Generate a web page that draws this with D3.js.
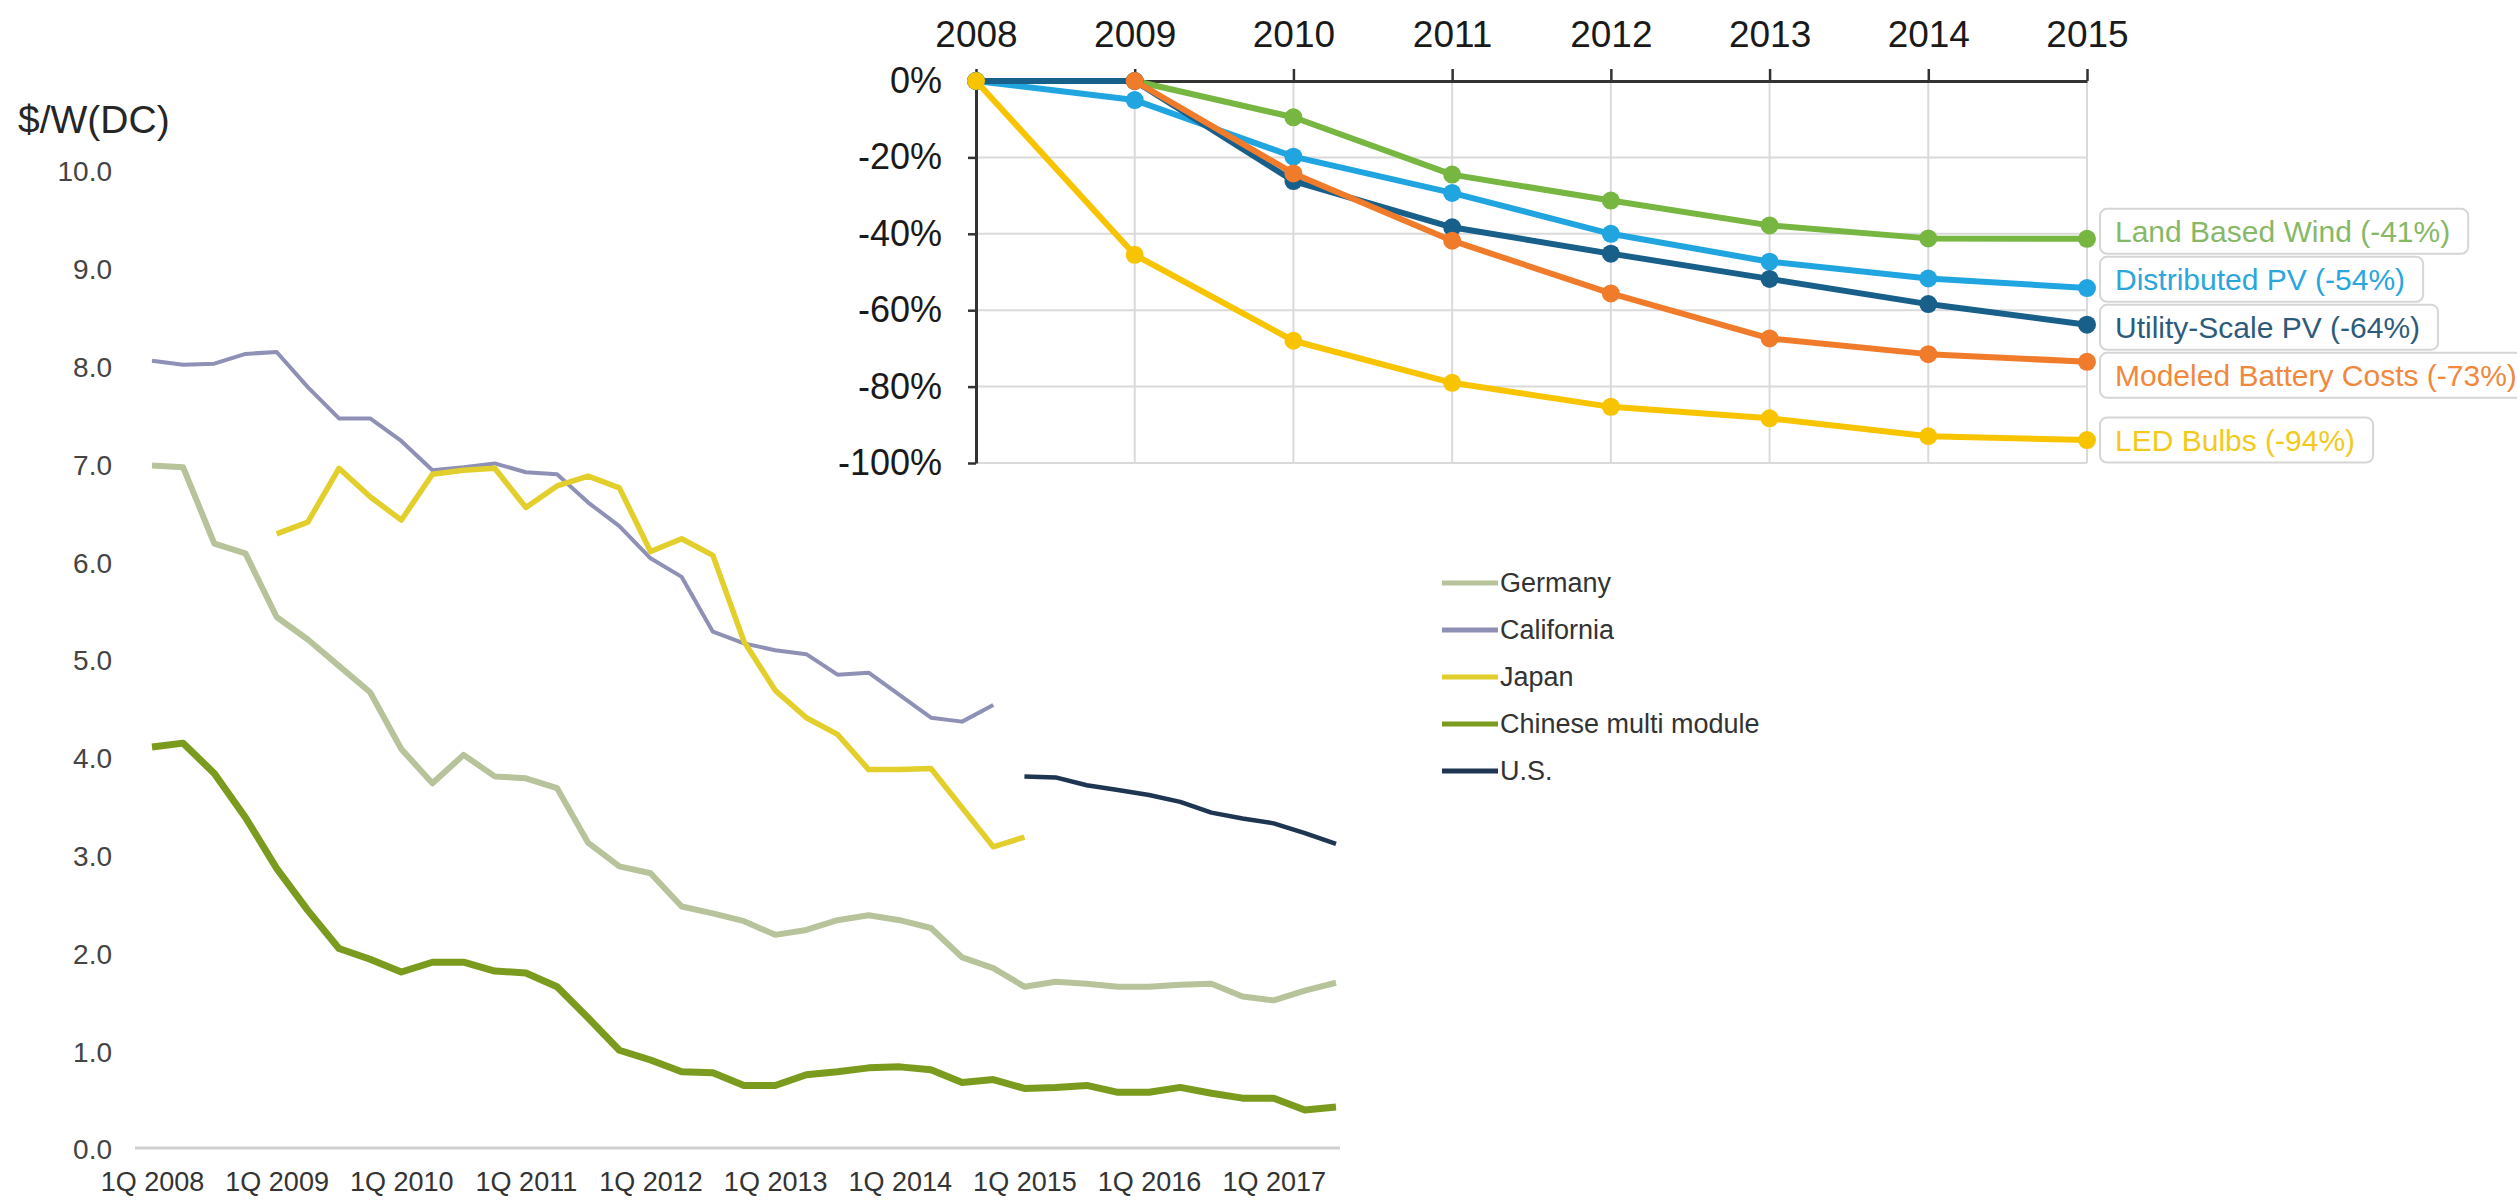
<!DOCTYPE html>
<html>
<head>
<meta charset="utf-8">
<script src="https://cdn.jsdelivr.net/npm/d3@7"></script>
<style>
  body { margin: 0; background: #fff; }
  svg { display: block; font-family: "Liberation Sans", Arial, sans-serif; }
</style>
</head>
<body>
<script>
// ---------- data: module prices ($/W DC), quarterly 1Q 2008 .. 3Q 2017 ----------
const years = [2008, 2009, 2010, 2011, 2012, 2013, 2014, 2015, 2016, 2017];
const quarterNames = ["1Q", "2Q", "3Q", "4Q"];
const quarters = years.flatMap(y => quarterNames.map(q => q + " " + y)).slice(0, 39);

const germany = [7.0, 6.98, 6.2, 6.1, 5.45, 5.22, 4.95, 4.68, 4.1, 3.75, 4.04, 3.82, 3.8, 3.7, 3.14,
  2.9, 2.83, 2.49, 2.42, 2.34, 2.2, 2.25, 2.35, 2.4, 2.35, 2.27, 1.97, 1.86, 1.67, 1.72,
  1.7, 1.67, 1.67, 1.69, 1.7, 1.57, 1.53, 1.63, 1.71];
const california = [8.07, 8.03, 8.04, 8.14, 8.16, 7.8, 7.48, 7.48, 7.25, 6.95, 6.98, 7.02, 6.93, 6.91,
  6.62, 6.38, 6.05, 5.86, 5.3, 5.18, 5.11, 5.07, 4.86, 4.88, 4.65, 4.42, 4.38, 4.55,
  null, null, null, null, null, null, null, null, null, null, null];
const japan = [null, null, null, null, 6.3, 6.42, 6.97, 6.68, 6.44, 6.91, 6.95, 6.97, 6.57, 6.79,
  6.89, 6.77, 6.12, 6.25, 6.08, 5.2, 4.7, 4.42, 4.25, 3.89, 3.89, 3.9, 3.5, 3.1, 3.2,
  null, null, null, null, null, null, null, null, null, null];
const chinese = [4.12, 4.16, 3.85, 3.4, 2.88, 2.45, 2.06, 1.95, 1.82, 1.92, 1.92, 1.83, 1.81, 1.67,
  1.35, 1.02, 0.92, 0.8, 0.79, 0.66, 0.66, 0.77, 0.8, 0.84, 0.85, 0.82, 0.69, 0.72, 0.63,
  0.64, 0.66, 0.59, 0.59, 0.64, 0.58, 0.53, 0.53, 0.41, 0.44];
const us = [null, null, null, null, null, null, null, null, null, null, null, null, null, null,
  null, null, null, null, null, null, null, null, null, null, null, null, null, null,
  3.82, 3.81, 3.73, 3.68, 3.63, 3.56, 3.45, 3.39, 3.34, 3.24, 3.13];
const priceTicks = [0, 1, 2, 3, 4, 5, 6, 7, 8, 9, 10];

// ---------- data: cost reduction since 2008 (%) ----------
const costYears = [2008, 2009, 2010, 2011, 2012, 2013, 2014, 2015];
const wind = [0, 0, -9.5, -24.5, -31.3, -37.8, -41.2, -41.3];
const distributedPV = [0, -5, -19.8, -29.3, -40, -47.3, -51.7, -54.2];
const utilityPV = [0, 0, -26.2, -38.3, -45.2, -51.8, -58.4, -63.8];
const battery = [null, 0, -24.2, -41.8, -55.6, -67.4, -71.5, -73.5];
const ledBulbs = [0, -45.5, -68, -79, -85.3, -88.3, -93, -94];
const pctTicks = [0, -20, -40, -60, -80, -100];

const W = 2517, H = 1200;
const svg = d3.select("body").append("svg").attr("width", W).attr("height", H);

// ================= left chart =================
const qx = d3.scalePoint().domain(quarters).range([152, 1336]);
const qy = d3.scaleLinear().domain([0, 10]).range([1150, 172]);

svg.append("text")
  .attr("x", 18).attr("y", 133)
  .attr("font-size", 39).attr("fill", "#262626")
  .text("$/W(DC)");

const yAxisL = svg.append("g")
  .attr("transform", "translate(112,0)")
  .call(d3.axisLeft(qy).tickValues(priceTicks).tickFormat(d3.format(".1f")).tickSize(0).tickPadding(0));
yAxisL.select(".domain").remove();
yAxisL.selectAll("text").attr("font-size", 28).attr("fill", "#444");

// baseline
svg.append("line")
  .attr("x1", qx.range()[0] - 17).attr("x2", qx.range()[1] + 4)
  .attr("y1", qy(0) - 2).attr("y2", qy(0) - 2)
  .attr("stroke", "#cfcfcf").attr("stroke-width", 3);

const xAxisL = svg.append("g")
  .attr("transform", `translate(0,${qy(0) - 2})`)
  .call(d3.axisBottom(qx).tickValues(quarters.filter(q => q.startsWith("1Q"))).tickSize(0).tickPadding(24));
xAxisL.select(".domain").remove();
xAxisL.selectAll("text").attr("font-size", 27).attr("fill", "#333");

const priceSeries = [
  { name: "Germany", values: germany, color: "#b7c39a", width: 6 },
  { name: "California", values: california, color: "#8e90b5", width: 4 },
  { name: "Japan", values: japan, color: "#e2cf2c", width: 5.5 },
  { name: "Chinese multi module", values: chinese, color: "#7b9b1e", width: 7 },
  { name: "U.S.", values: us, color: "#1f3652", width: 4.5 }
];

const priceLine = d3.line()
  .defined(d => d.v != null)
  .x(d => qx(d.q))
  .y(d => qy(d.v));

svg.selectAll(".price-line")
  .data(priceSeries)
  .enter()
  .append("path")
  .attr("class", "price-line")
  .attr("fill", "none")
  .attr("stroke", d => d.color)
  .attr("stroke-width", d => d.width)
  .attr("stroke-linejoin", "round")
  .attr("d", d => priceLine(d.values.map((v, i) => ({ q: quarters[i], v: v }))));

// legend
const legend = svg.append("g").attr("transform", "translate(1442,583)");
priceSeries.forEach((s, i) => {
  const g = legend.append("g").attr("transform", `translate(0,${i * 47})`);
  g.append("line").attr("x1", 0).attr("x2", 56).attr("y1", 0).attr("y2", 0)
    .attr("stroke", s.color).attr("stroke-width", 5);
  g.append("text").attr("x", 58).attr("y", 0).attr("dy", "0.35em")
    .attr("font-size", 27).attr("fill", "#333").text(s.name);
});

// ================= top chart =================
const tx = d3.scalePoint().domain(costYears).range([976, 2087]);
const ty = d3.scaleLinear().domain([-100, 0]).range([463, 81]);

// gridlines
svg.append("g").selectAll("line")
  .data(pctTicks.filter(d => d < 0))
  .enter().append("line")
  .attr("x1", tx(2008)).attr("x2", tx(2015))
  .attr("y1", d => ty(d)).attr("y2", d => ty(d))
  .attr("stroke", "#dadada").attr("stroke-width", 2);
svg.append("g").selectAll("line")
  .data(costYears.slice(1))
  .enter().append("line")
  .attr("x1", d => tx(d)).attr("x2", d => tx(d))
  .attr("y1", ty(0)).attr("y2", ty(-100))
  .attr("stroke", "#dadada").attr("stroke-width", 2);

const xAxisT = svg.append("g")
  .attr("transform", `translate(0,${ty(0)})`)
  .call(d3.axisTop(tx).tickSize(12).tickSizeOuter(0).tickPadding(22));
xAxisT.select(".domain").attr("stroke", "#333").attr("stroke-width", 3);
xAxisT.selectAll(".tick line").attr("stroke", "#333").attr("stroke-width", 2.5);
xAxisT.selectAll("text").attr("font-size", 37).attr("fill", "#1a1a1a");

const yAxisT = svg.append("g")
  .attr("transform", `translate(${tx(2008)},0)`)
  .call(d3.axisLeft(ty).tickValues(pctTicks).tickFormat(d => d + "%").tickSize(8).tickSizeOuter(0).tickPadding(26));
yAxisT.select(".domain").attr("stroke", "#333").attr("stroke-width", 3);
yAxisT.selectAll(".tick line").attr("stroke", "#333").attr("stroke-width", 2.5);
yAxisT.selectAll("text").attr("font-size", 36).attr("fill", "#1a1a1a");

const costSeries = [
  { name: "Land Based Wind (-41%)", values: wind, color: "#76b641", text: "#86b866" },
  { name: "Distributed PV (-54%)", values: distributedPV, color: "#20a5e0", text: "#2aa6dc" },
  { name: "Utility-Scale PV (-64%)", values: utilityPV, color: "#185f8a", text: "#2d5c7a" },
  { name: "Modeled Battery Costs (-73%)", values: battery, color: "#f07b2b", text: "#f0883e" },
  { name: "LED Bulbs (-94%)", values: ledBulbs, color: "#f8c400", text: "#f2c91c" }
];

const costLine = d3.line()
  .defined(d => d.v != null)
  .x(d => tx(d.yr))
  .y(d => ty(d.v));

costSeries.forEach(s => {
  const pts = s.values.map((v, i) => ({ yr: costYears[i], v: v }));
  svg.append("path")
    .attr("fill", "none")
    .attr("stroke", s.color)
    .attr("stroke-width", 6)
    .attr("stroke-linejoin", "round")
    .attr("d", costLine(pts));
  svg.append("g").selectAll("circle")
    .data(pts.filter(d => d.v != null))
    .enter().append("circle")
    .attr("cx", d => tx(d.yr))
    .attr("cy", d => ty(d.v))
    .attr("r", 9)
    .attr("fill", s.color);
});

// end labels, spread so boxes don't overlap
const boxH = 45, pitch = 48;
const ends = costSeries.map(s => ({ s: s, c: ty(s.values[s.values.length - 1]) }));
ends.sort((a, b) => a.c - b.c);
for (let k = 0; k < 100; k++) {
  for (let i = 0; i < ends.length - 1; i++) {
    const gap = ends[i + 1].c - ends[i].c;
    if (gap < pitch) {
      const push = (pitch - gap) / 2;
      ends[i].c -= push;
      ends[i + 1].c += push;
    }
  }
}
const labelX = tx(2015) + 13;
ends.forEach(e => {
  const g = svg.append("g");
  const box = g.append("rect");
  const t = g.append("text")
    .attr("x", labelX + 15).attr("y", e.c).attr("dy", "0.35em")
    .attr("font-size", 30).attr("fill", e.s.text).text(e.s.name);
  const tw = t.node().getComputedTextLength();
  box.attr("x", labelX).attr("y", e.c - boxH / 2)
    .attr("width", tw + 33).attr("height", boxH)
    .attr("rx", 7)
    .attr("fill", "#fff").attr("stroke", "#d6d6d6").attr("stroke-width", 2);
});
</script>
</body>
</html>
